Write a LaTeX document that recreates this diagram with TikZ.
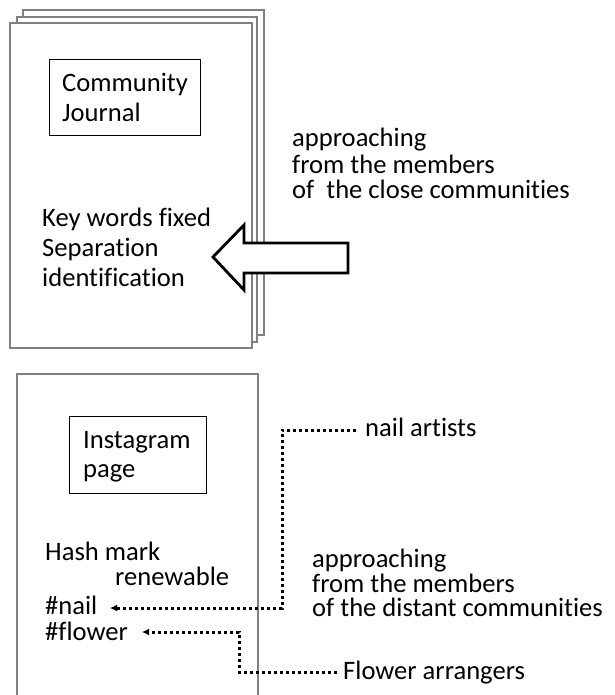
\documentclass[tikz,border=0pt]{standalone}
\usepackage{fontspec}
\setmainfont[Ligatures={NoCommon}]{Carlito}
\usetikzlibrary{arrows.meta}
\definecolor{sheetgray}{HTML}{808080}
\tikzset{
  sheet/.style={draw=sheetgray, line width=2.8pt, fill=white},
  inbox/.style={draw=black, line width=0.9pt, inner sep=0pt},
  txt/.style={inner sep=0pt, anchor=base west, font=\fontsize{26.6}{30}\selectfont},
  bigarrow/.style={draw=black, line width=2.8pt, fill=white, line join=miter},
  dotline/.style={draw=black, line width=3pt, dash pattern=on 3pt off 3pt, -{Latex[length=7pt,width=7pt]}},
}
\begin{document}
\begin{tikzpicture}[x=1pt,y=-1pt]
\useasboundingbox (0,0) rectangle (614,695);
% stacked journal sheets
\draw[sheet] (23,10) rectangle (264,335);
\draw[sheet] (17,17) rectangle (257,342);
\draw[sheet] (10,23) rectangle (252,348);
% Community Journal box
\node[inbox, minimum width=151pt, minimum height=76pt, anchor=north west] (cj) at (49,59) {};
\node[txt] (cj1) at (62,92) {Community};
\node[txt] (cj2) at (62,122) {Journal};
\node[txt] (kw1) at (42,226) {Key words fixed};
\node[txt] (kw2) at (42,256) {Separation};
\node[txt] (kw3) at (42,286) {identification};
% big arrow
\draw[bigarrow] (213,257) -- (244,225) -- (244,243) -- (348,243) -- (348,273) -- (244,273) -- (244,290) -- cycle;
\node[txt] (ap1) at (292,147) {approaching};
\node[txt] (ap2) at (292,173) {from the members};
\node[txt] (ap3) at (292,198) {of\ \ the close communities};
% Instagram sheet
\draw[sheet] (17,700) -- (17,374) -- (258,374) -- (258,700);
\node[inbox, minimum width=137pt, minimum height=77pt, anchor=north west] (ig) at (69,416) {};
\node[txt] (ig1) at (83,448) {Instagram};
\node[txt] (ig2) at (83,477) {page};
\node[txt] (hm) at (45,560) {Hash mark};
\node[txt] (rn) at (115,585) {renewable};
\node[txt] (hn) at (45,614) {\#nail};
\node[txt] (hf) at (45,640) {\#flower};
\node[txt] (na) at (365,436) {nail artists};
\node[txt] (fa) at (343,679) {Flower arrangers};
\node[txt] (bp1) at (312,567) {approaching};
\node[txt] (bp2) at (312,592) {from the members};
\node[txt] (bp3) at (312,616) {of the distant communities};
% dotted connectors
\coordinate (naS) at (356,430);
\coordinate (naB) at (282,430);
\coordinate (naT) at (110,608);
\draw[dotline] (naS) -- (naB) -- (282,608) -- (naT);
\coordinate (faS) at (337,672);
\coordinate (faB) at (239,672);
\coordinate (faT) at (142,632);
\draw[dotline] (faS) -- (faB) -- (239,632) -- (faT);
\end{tikzpicture}
\end{document}
